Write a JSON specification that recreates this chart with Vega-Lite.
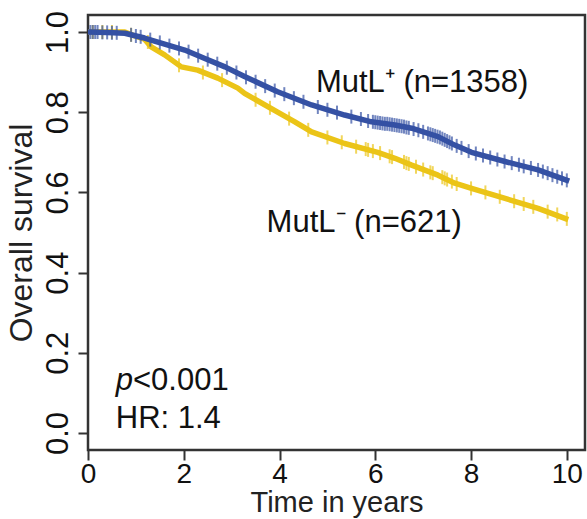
{
  "$schema": "https://vega.github.io/schema/vega-lite/v6.json",
  "width": 497,
  "height": 435,
  "autosize": "none",
  "padding": {"left": 88, "top": 15, "right": 2, "bottom": 69},
  "background": "white",
  "config": {
    "view": {"stroke": "#333333", "strokeWidth": 2.5},
    "font": "Liberation Sans",
    "axis": {
      "labelFont": "Liberation Sans",
      "titleFont": "Liberation Sans",
      "labelFontSize": 31,
      "titleFontSize": 32,
      "titleFontWeight": "normal",
      "labelColor": "#111111",
      "titleColor": "#222222",
      "tickColor": "#333333",
      "tickWidth": 2,
      "tickSize": 10,
      "domain": false,
      "grid": false
    }
  },
  "datasets": {
    "curves": [
      {"group": "MutL-", "t": 0, "s": 1.0},
      {"group": "MutL-", "t": 0.77, "s": 1.0},
      {"group": "MutL-", "t": 0.98, "s": 0.99},
      {"group": "MutL-", "t": 1.18, "s": 0.982},
      {"group": "MutL-", "t": 1.32, "s": 0.963},
      {"group": "MutL-", "t": 1.6, "s": 0.943},
      {"group": "MutL-", "t": 1.95, "s": 0.913},
      {"group": "MutL-", "t": 2.29, "s": 0.905},
      {"group": "MutL-", "t": 2.71, "s": 0.885},
      {"group": "MutL-", "t": 3.13, "s": 0.86},
      {"group": "MutL-", "t": 3.27, "s": 0.847},
      {"group": "MutL-", "t": 3.96, "s": 0.8},
      {"group": "MutL-", "t": 4.32, "s": 0.776},
      {"group": "MutL-", "t": 4.67, "s": 0.751},
      {"group": "MutL-", "t": 5.36, "s": 0.722},
      {"group": "MutL-", "t": 6.05, "s": 0.7},
      {"group": "MutL-", "t": 6.41, "s": 0.685},
      {"group": "MutL-", "t": 6.76, "s": 0.668},
      {"group": "MutL-", "t": 7.31, "s": 0.643},
      {"group": "MutL-", "t": 7.66, "s": 0.623},
      {"group": "MutL-", "t": 8.01, "s": 0.61},
      {"group": "MutL-", "t": 8.71, "s": 0.585},
      {"group": "MutL-", "t": 9.4, "s": 0.56},
      {"group": "MutL-", "t": 10.03, "s": 0.532},
      {"group": "MutL+", "t": 0, "s": 1.0},
      {"group": "MutL+", "t": 0.4, "s": 0.999},
      {"group": "MutL+", "t": 0.77, "s": 0.997},
      {"group": "MutL+", "t": 1.18, "s": 0.985},
      {"group": "MutL+", "t": 1.6, "s": 0.97},
      {"group": "MutL+", "t": 2.02, "s": 0.955},
      {"group": "MutL+", "t": 2.44, "s": 0.934},
      {"group": "MutL+", "t": 2.86, "s": 0.913},
      {"group": "MutL+", "t": 3.27, "s": 0.889},
      {"group": "MutL+", "t": 3.96, "s": 0.851},
      {"group": "MutL+", "t": 4.67, "s": 0.818},
      {"group": "MutL+", "t": 5.36, "s": 0.793},
      {"group": "MutL+", "t": 5.92, "s": 0.776},
      {"group": "MutL+", "t": 6.41, "s": 0.768},
      {"group": "MutL+", "t": 6.76, "s": 0.76},
      {"group": "MutL+", "t": 7.31, "s": 0.739},
      {"group": "MutL+", "t": 7.66, "s": 0.718},
      {"group": "MutL+", "t": 8.01, "s": 0.7},
      {"group": "MutL+", "t": 8.71, "s": 0.677},
      {"group": "MutL+", "t": 9.4, "s": 0.656},
      {"group": "MutL+", "t": 10.05, "s": 0.628}
    ],
    "censor": [
      {"group": "MutL-", "t": 0.1, "s": 1.0},
      {"group": "MutL-", "t": 0.3, "s": 1.0},
      {"group": "MutL-", "t": 0.5, "s": 1.0},
      {"group": "MutL-", "t": 0.9, "s": 0.993},
      {"group": "MutL-", "t": 1.25, "s": 0.975},
      {"group": "MutL-", "t": 1.9, "s": 0.917},
      {"group": "MutL-", "t": 2.4, "s": 0.899},
      {"group": "MutL-", "t": 2.8, "s": 0.88},
      {"group": "MutL-", "t": 3.5, "s": 0.831},
      {"group": "MutL-", "t": 3.8, "s": 0.811},
      {"group": "MutL-", "t": 4.2, "s": 0.784},
      {"group": "MutL-", "t": 4.6, "s": 0.756},
      {"group": "MutL-", "t": 5.0, "s": 0.737},
      {"group": "MutL-", "t": 5.3, "s": 0.725},
      {"group": "MutL-", "t": 5.6, "s": 0.714},
      {"group": "MutL-", "t": 5.8, "s": 0.708},
      {"group": "MutL-", "t": 5.85, "s": 0.706},
      {"group": "MutL-", "t": 5.95, "s": 0.703},
      {"group": "MutL-", "t": 6.1, "s": 0.698},
      {"group": "MutL-", "t": 6.3, "s": 0.69},
      {"group": "MutL-", "t": 6.35, "s": 0.688},
      {"group": "MutL-", "t": 6.6, "s": 0.676},
      {"group": "MutL-", "t": 6.65, "s": 0.673},
      {"group": "MutL-", "t": 6.7, "s": 0.671},
      {"group": "MutL-", "t": 6.85, "s": 0.664},
      {"group": "MutL-", "t": 7.0, "s": 0.657},
      {"group": "MutL-", "t": 7.15, "s": 0.65},
      {"group": "MutL-", "t": 7.2, "s": 0.648},
      {"group": "MutL-", "t": 7.4, "s": 0.638},
      {"group": "MutL-", "t": 7.45, "s": 0.635},
      {"group": "MutL-", "t": 7.5, "s": 0.632},
      {"group": "MutL-", "t": 7.6, "s": 0.627},
      {"group": "MutL-", "t": 7.7, "s": 0.621},
      {"group": "MutL-", "t": 8.0, "s": 0.61},
      {"group": "MutL-", "t": 8.3, "s": 0.6},
      {"group": "MutL-", "t": 8.6, "s": 0.589},
      {"group": "MutL-", "t": 8.9, "s": 0.578},
      {"group": "MutL-", "t": 9.1, "s": 0.571},
      {"group": "MutL-", "t": 9.3, "s": 0.564},
      {"group": "MutL-", "t": 9.6, "s": 0.552},
      {"group": "MutL-", "t": 9.8, "s": 0.545},
      {"group": "MutL-", "t": 10.0, "s": 0.534},
      {"group": "MutL+", "t": 0.05, "s": 1.0},
      {"group": "MutL+", "t": 0.1, "s": 1.0},
      {"group": "MutL+", "t": 0.15, "s": 1.0},
      {"group": "MutL+", "t": 0.2, "s": 1.0},
      {"group": "MutL+", "t": 0.3, "s": 0.999},
      {"group": "MutL+", "t": 0.4, "s": 0.999},
      {"group": "MutL+", "t": 0.5, "s": 0.998},
      {"group": "MutL+", "t": 0.6, "s": 0.998},
      {"group": "MutL+", "t": 0.9, "s": 0.993},
      {"group": "MutL+", "t": 1.0, "s": 0.99},
      {"group": "MutL+", "t": 1.1, "s": 0.988},
      {"group": "MutL+", "t": 1.3, "s": 0.981},
      {"group": "MutL+", "t": 1.5, "s": 0.974},
      {"group": "MutL+", "t": 1.7, "s": 0.966},
      {"group": "MutL+", "t": 1.9, "s": 0.959},
      {"group": "MutL+", "t": 2.1, "s": 0.951},
      {"group": "MutL+", "t": 2.3, "s": 0.941},
      {"group": "MutL+", "t": 2.5, "s": 0.931},
      {"group": "MutL+", "t": 2.7, "s": 0.921},
      {"group": "MutL+", "t": 2.9, "s": 0.911},
      {"group": "MutL+", "t": 3.1, "s": 0.899},
      {"group": "MutL+", "t": 3.3, "s": 0.887},
      {"group": "MutL+", "t": 3.5, "s": 0.876},
      {"group": "MutL+", "t": 3.7, "s": 0.865},
      {"group": "MutL+", "t": 3.9, "s": 0.854},
      {"group": "MutL+", "t": 4.1, "s": 0.845},
      {"group": "MutL+", "t": 4.3, "s": 0.835},
      {"group": "MutL+", "t": 4.5, "s": 0.826},
      {"group": "MutL+", "t": 4.8, "s": 0.813},
      {"group": "MutL+", "t": 5.0, "s": 0.806},
      {"group": "MutL+", "t": 5.2, "s": 0.799},
      {"group": "MutL+", "t": 5.5, "s": 0.789},
      {"group": "MutL+", "t": 5.7, "s": 0.783},
      {"group": "MutL+", "t": 5.85, "s": 0.778},
      {"group": "MutL+", "t": 5.95, "s": 0.776},
      {"group": "MutL+", "t": 6.0, "s": 0.775},
      {"group": "MutL+", "t": 6.05, "s": 0.774},
      {"group": "MutL+", "t": 6.1, "s": 0.773},
      {"group": "MutL+", "t": 6.15, "s": 0.772},
      {"group": "MutL+", "t": 6.2, "s": 0.771},
      {"group": "MutL+", "t": 6.25, "s": 0.771},
      {"group": "MutL+", "t": 6.3, "s": 0.77},
      {"group": "MutL+", "t": 6.35, "s": 0.769},
      {"group": "MutL+", "t": 6.4, "s": 0.768},
      {"group": "MutL+", "t": 6.45, "s": 0.767},
      {"group": "MutL+", "t": 6.5, "s": 0.766},
      {"group": "MutL+", "t": 6.55, "s": 0.765},
      {"group": "MutL+", "t": 6.6, "s": 0.764},
      {"group": "MutL+", "t": 6.65, "s": 0.762},
      {"group": "MutL+", "t": 6.7, "s": 0.761},
      {"group": "MutL+", "t": 6.8, "s": 0.758},
      {"group": "MutL+", "t": 6.9, "s": 0.755},
      {"group": "MutL+", "t": 7.0, "s": 0.751},
      {"group": "MutL+", "t": 7.1, "s": 0.747},
      {"group": "MutL+", "t": 7.15, "s": 0.745},
      {"group": "MutL+", "t": 7.2, "s": 0.743},
      {"group": "MutL+", "t": 7.25, "s": 0.741},
      {"group": "MutL+", "t": 7.3, "s": 0.739},
      {"group": "MutL+", "t": 7.35, "s": 0.737},
      {"group": "MutL+", "t": 7.4, "s": 0.734},
      {"group": "MutL+", "t": 7.45, "s": 0.731},
      {"group": "MutL+", "t": 7.5, "s": 0.728},
      {"group": "MutL+", "t": 7.55, "s": 0.725},
      {"group": "MutL+", "t": 7.6, "s": 0.722},
      {"group": "MutL+", "t": 7.7, "s": 0.716},
      {"group": "MutL+", "t": 7.8, "s": 0.711},
      {"group": "MutL+", "t": 7.95, "s": 0.703},
      {"group": "MutL+", "t": 8.1, "s": 0.697},
      {"group": "MutL+", "t": 8.25, "s": 0.692},
      {"group": "MutL+", "t": 8.4, "s": 0.687},
      {"group": "MutL+", "t": 8.55, "s": 0.682},
      {"group": "MutL+", "t": 8.7, "s": 0.677},
      {"group": "MutL+", "t": 8.85, "s": 0.673},
      {"group": "MutL+", "t": 9.0, "s": 0.669},
      {"group": "MutL+", "t": 9.1, "s": 0.665},
      {"group": "MutL+", "t": 9.25, "s": 0.661},
      {"group": "MutL+", "t": 9.4, "s": 0.656},
      {"group": "MutL+", "t": 9.5, "s": 0.652},
      {"group": "MutL+", "t": 9.6, "s": 0.648},
      {"group": "MutL+", "t": 9.7, "s": 0.643},
      {"group": "MutL+", "t": 9.8, "s": 0.639},
      {"group": "MutL+", "t": 9.9, "s": 0.635},
      {"group": "MutL+", "t": 10.0, "s": 0.63}
    ],
    "notes": [
      {"kind": "plain", "label": "MutL⁺ (n=1358)", "t": 4.76, "s": 0.851},
      {"kind": "plain", "label": "MutL⁻ (n=621)", "t": 3.73, "s": 0.501},
      {"kind": "italic", "label": "p", "t": 0.58, "s": 0.107},
      {"kind": "plain", "label": "<0.001", "t": 0.94, "s": 0.107},
      {"kind": "plain", "label": "HR: 1.4", "t": 0.58, "s": 0.012}
    ]
  },
  "encoding": {
    "x": {
      "field": "t",
      "type": "quantitative",
      "scale": {"domain": [0, 10.38], "nice": false, "zero": false},
      "axis": {"values": [0, 2, 4, 6, 8, 10], "title": "Time in years", "labelFontSize": 28, "labelPadding": 0, "titleFontSize": 29, "titlePadding": 0, "labelFlush": false}
    },
    "y": {
      "field": "s",
      "type": "quantitative",
      "scale": {"domain": [-0.0424, 1.0424], "nice": false, "zero": false},
      "axis": {"values": [0, 0.2, 0.4, 0.6, 0.8, 1.0], "format": ".1f", "labelAngle": 270, "title": "Overall survival", "labelPadding": 4, "titlePadding": 4, "labelFlush": false}
    }
  },
  "layer": [
    {
      "data": {"name": "curves"},
      "transform": [{"filter": "datum.group === 'MutL-'"}],
      "mark": {"type": "line", "color": "#EBC417", "strokeWidth": 5.5, "strokeJoin": "round"}
    },
    {
      "data": {"name": "censor"},
      "transform": [{"filter": "datum.group === 'MutL-'"}],
      "mark": {"type": "tick", "orient": "vertical", "color": "#EBC417", "size": 14, "thickness": 2}
    },
    {
      "data": {"name": "curves"},
      "transform": [{"filter": "datum.group === 'MutL+'"}],
      "mark": {"type": "line", "color": "#3551A4", "strokeWidth": 5.5, "strokeJoin": "round"}
    },
    {
      "data": {"name": "censor"},
      "transform": [{"filter": "datum.group === 'MutL+'"}],
      "mark": {"type": "tick", "orient": "vertical", "color": "#3551A4", "size": 14, "thickness": 2}
    },
    {
      "data": {"name": "notes"},
      "transform": [{"filter": "datum.kind === 'plain'"}],
      "mark": {"type": "text", "align": "left", "baseline": "alphabetic", "fontSize": 31, "font": "Liberation Sans", "color": "#111111"},
      "encoding": {"text": {"field": "label"}}
    },
    {
      "data": {"name": "notes"},
      "transform": [{"filter": "datum.kind === 'italic'"}],
      "mark": {"type": "text", "align": "left", "baseline": "alphabetic", "fontSize": 31, "font": "Liberation Sans", "fontStyle": "italic", "color": "#111111"},
      "encoding": {"text": {"field": "label"}}
    }
  ]
}
